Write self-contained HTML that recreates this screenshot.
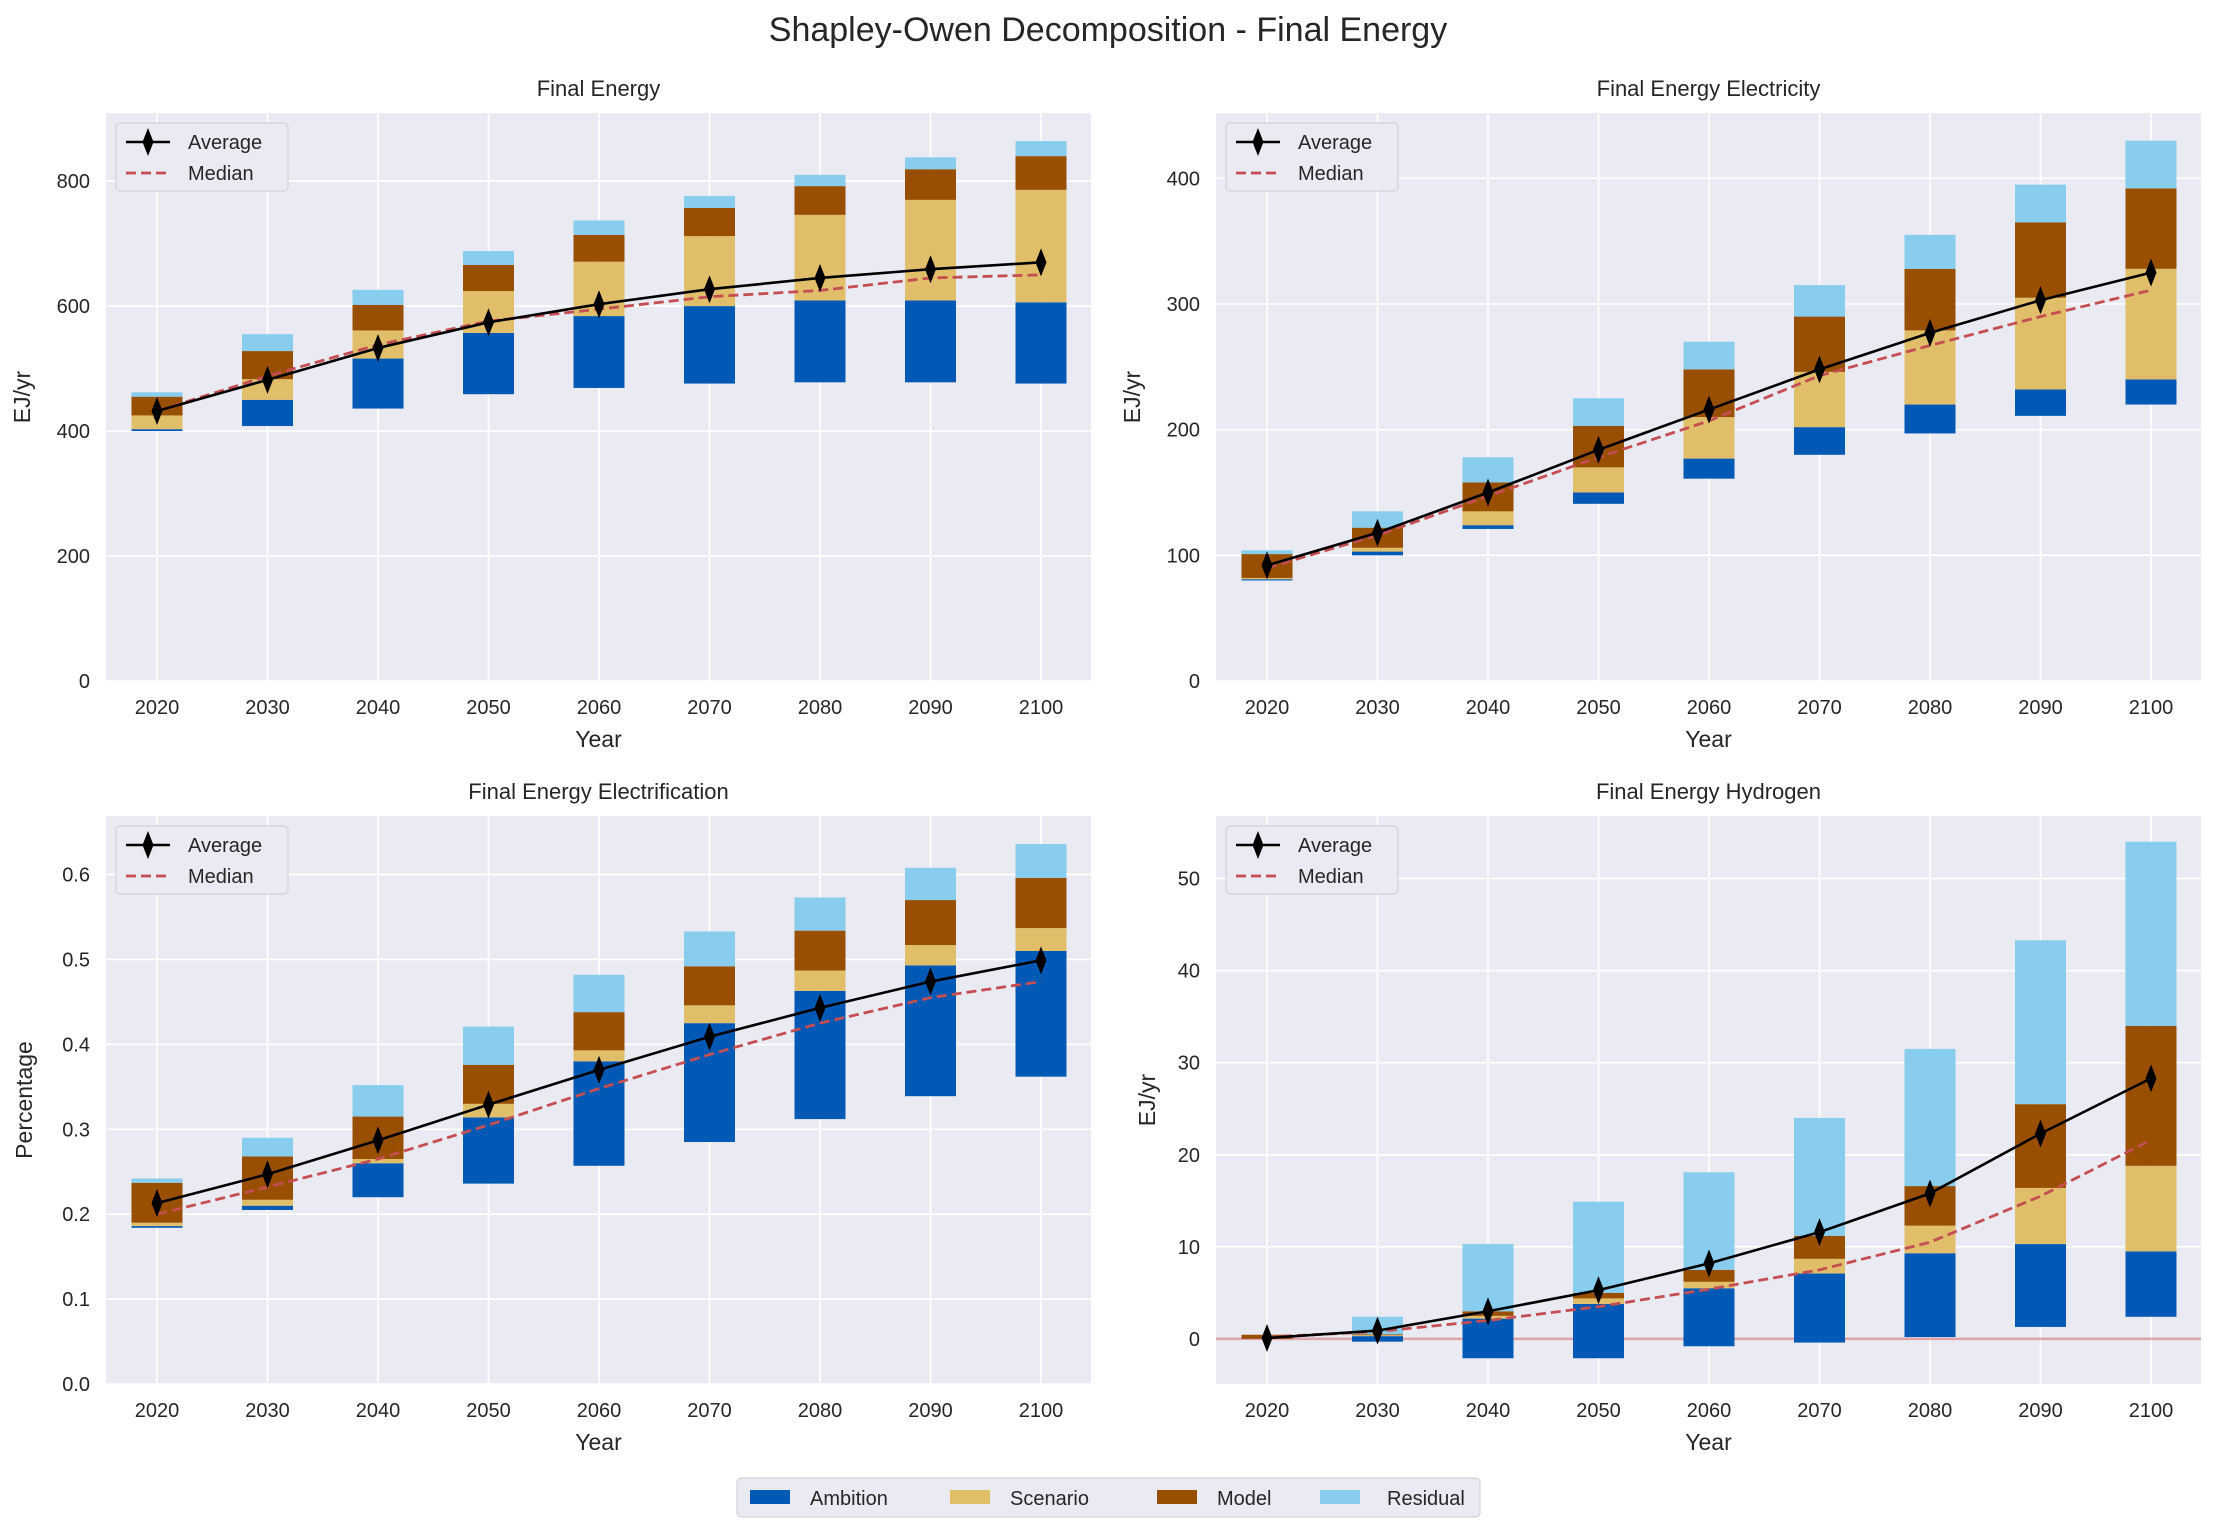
<!DOCTYPE html>
<html><head><meta charset="utf-8">
<style>
body{margin:0;background:#fff;}
svg text{font-family:"Liberation Sans",Arial,sans-serif;fill:#262626;}
</style></head>
<body>
<svg id="fig" width="2217" height="1534" viewBox="0 0 2217 1534" xmlns="http://www.w3.org/2000/svg">
<text x="1108" y="41" font-size="34" text-anchor="middle">Shapley-Owen Decomposition - Final Energy</text>
<g id="panels"></g>
<g>
<rect x="737" y="1478" width="743" height="39" rx="4" fill="#EAEAF2" stroke="#cccccc"/>
<rect x="750" y="1490" width="40" height="14" fill="#005AB5"/>
<text x="810" y="1505" font-size="20">Ambition</text>
<rect x="950" y="1490" width="40" height="14" fill="#E1BE6A"/>
<text x="1010" y="1505" font-size="20">Scenario</text>
<rect x="1157" y="1490" width="40" height="14" fill="#994F00"/>
<text x="1217" y="1505" font-size="20">Model</text>
<rect x="1320" y="1490" width="40" height="14" fill="#88CCEE"/>
<text x="1387" y="1505" font-size="20">Residual</text>
</g>
</svg>
<script>
const years = ["2020","2030","2040","2050","2060","2070","2080","2090","2100"];
// Final Energy
const feBase = [400,408,436,459,469,476,478,478,476];
const feAmb = [3,42,80,98,115,124,131,131,130];
const feScen = [22,33,45,67,87,112,137,161,180];
const feModel = [30,45,41,42,43,45,46,49,54];
const feResid = [7,27,24,22,23,19,18,19,24];
const feAvg = [432,482,533,574,603,627,645,659,670];
const feMed = [432,488,538,576,595,615,625,645,650];
const feTicks = [0,200,400,600,800];
// Electricity
const elBase = [80,100,121,141,161,180,197,211,220];
const elAmb = [1,3,3,9,16,22,23,21,20];
const elScen = [1,3,11,20,33,44,59,73,88];
const elModel = [19,16,23,33,38,44,49,60,64];
const elResid = [3,13,20,22,22,25,27,30,38];
const elAvg = [92,118,150,184,216,248,277,303,325];
const elMed = [90,116,147,178,207,243,267,290,311];
const elTicks = [0,100,200,300,400];
// Electrification
const ecBase = [0.184,0.205,0.22,0.236,0.257,0.285,0.312,0.339,0.362];
const ecAmb = [0.002,0.005,0.04,0.078,0.123,0.14,0.151,0.154,0.148];
const ecScen = [0.004,0.007,0.005,0.016,0.013,0.021,0.024,0.024,0.027];
const ecModel = [0.047,0.051,0.05,0.046,0.045,0.046,0.047,0.053,0.059];
const ecResid = [0.005,0.022,0.037,0.045,0.044,0.041,0.039,0.038,0.04];
const ecAvg = [0.213,0.247,0.287,0.329,0.37,0.409,0.443,0.474,0.499];
const ecMed = [0.20,0.232,0.265,0.305,0.348,0.388,0.425,0.455,0.474];
const ecTicks = [0,0.1,0.2,0.3,0.4,0.5,0.6];
// Hydrogen
const hyBase = [0,-0.3,-2.1,-2.1,-0.8,-0.4,0.2,1.3,2.4];
const hyAmb = [0,0.6,4.3,5.9,6.3,7.5,9.1,9.0,7.1];
const hyScen = [0,0.1,0.3,0.6,0.7,1.6,3.0,6.1,9.3];
const hyModel = [0.45,0.1,0.5,0.6,1.3,2.5,4.3,9.1,15.2];
const hyResid = [0,1.9,7.3,9.9,10.6,12.8,14.9,17.8,20.0];
const hyAvg = [0.1,0.9,3.0,5.3,8.2,11.6,15.8,22.3,28.3];
const hyMed = [0.2,0.8,2.0,3.5,5.4,7.5,10.5,15.5,21.6];
const hyTicks = [0,10,20,30,40,50];

const NS="http://www.w3.org/2000/svg";
const root=document.getElementById('panels');
function mk(tag,attrs,parent){const e=document.createElementNS(NS,tag);for(const k in attrs)e.setAttribute(k,attrs[k]);(parent||root).appendChild(e);return e;}
const colors=["#005AB5","#E1BE6A","#994F00","#88CCEE"];
const segNames=["ambition","scenario","model","residual"];

function panel(o){
  const g=mk('g',{});
  
  
  const L=o.x0,R=o.x0+985,T=o.y0,B=o.y0+568;
  const bg=mk('rect',{x:L,y:T,width:R-L,height:B-T,fill:'#EAEAF2'},g);
  
  
  const ys=v=>B-(v-o.ymin)/(o.ymax-o.ymin)*(B-T);
  const xs=i=>L+51+i*110.5;
  o.ticks.forEach(t=>{
    const y=ys(t);
    const gl=mk('line',{x1:L,x2:R,y1:y,y2:y,stroke:'#fff','stroke-width':1.6},g);
    
    
    const tl=mk('text',{x:L-16,y:y+7,'font-size':20,'text-anchor':'end'},g);
    
    
    tl.textContent=o.fmt(t);
  });
  years.forEach((yr,i)=>{
    const x=xs(i);
    const gl=mk('line',{x1:x,x2:x,y1:T,y2:B,stroke:'#fff','stroke-width':1.6},g);
    
    
    const tl=mk('text',{x:x,y:B+33,'font-size':20,'text-anchor':'middle'},g);
    
    
    tl.textContent=yr;
  });
  if(o.zeroLine){
    const zl=mk('line',{x1:L,x2:R,y1:ys(0),y2:ys(0),stroke:'#C44E52','stroke-opacity':0.5,'stroke-width':2.5},g);
    
    
  }
  years.forEach((yr,i)=>{
    let b=o.base[i];
    o.segs.forEach((arr,k)=>{
      const v=arr[i];
      if(v>0){
        const y1=ys(b+v),y2=ys(b);
        const r=mk('rect',{x:xs(i)-25.5,y:y1,width:51,height:Math.max(0.5,y2-y1),fill:colors[k]},g);
        
        
      }
      b+=v;
    });
  });
  const med=mk('polyline',{points:o.med.map((v,i)=>xs(i)+','+ys(v)).join(' '),fill:'none',stroke:'#C44E52','stroke-width':2.8,'stroke-dasharray':'10,5'},g);
  
  
  const avg=mk('polyline',{points:o.avg.map((v,i)=>xs(i)+','+ys(v)).join(' '),fill:'none',stroke:'#000','stroke-width':2.6},g);
  
  
  o.avg.forEach((v,i)=>{
    const x=xs(i),y=ys(v);
    const m=mk('polygon',{points:`${x},${y-14} ${x+5.5},${y} ${x},${y+14} ${x-5.5},${y}`,fill:'#000'},g);
    
    
  });
  const tt=mk('text',{x:(L+R)/2,y:T-17,'font-size':22,'text-anchor':'middle'},g);
  
  
  tt.textContent=o.title;
  const xl=mk('text',{x:(L+R)/2,y:B+66,'font-size':23,'text-anchor':'middle'},g);
  
  
  xl.textContent='Year';
  const yl=mk('text',{x:0,y:0,'font-size':23,'text-anchor':'middle',transform:`translate(${o.ylx},${(T+B)/2}) rotate(-90)`},g);
  
  
  yl.textContent=o.ylabel;
  const lg=mk('g',{},g);
  
  
  mk('rect',{x:L+10,y:T+10,width:172,height:68,rx:4,fill:'#EAEAF2',stroke:'#cccccc'},lg);
  mk('line',{x1:L+20,x2:L+64,y1:T+29,y2:T+29,stroke:'#000','stroke-width':2.6},lg);
  mk('polygon',{points:`${L+42},${T+15} ${L+47.5},${T+29} ${L+42},${T+43} ${L+36.5},${T+29}`,fill:'#000'},lg);
  const t1=mk('text',{x:L+82,y:T+36,'font-size':20},lg);t1.textContent='Average';
  mk('line',{x1:L+20,x2:L+64,y1:T+60,y2:T+60,stroke:'#C44E52','stroke-width':2.8,'stroke-dasharray':'10,5'},lg);
  const t2=mk('text',{x:L+82,y:T+67,'font-size':20},lg);t2.textContent='Median';
}
panel({name:'panel-final-energy',title:'Final Energy',x0:106,y0:113,ymin:0,ymax:909,ticks:feTicks,fmt:t=>String(t),base:feBase,segs:[feAmb,feScen,feModel,feResid],avg:feAvg,med:feMed,ylabel:'EJ/yr',ylx:30});
panel({name:'panel-electricity',title:'Final Energy Electricity',x0:1216,y0:113,ymin:0,ymax:452,ticks:elTicks,fmt:t=>String(t),base:elBase,segs:[elAmb,elScen,elModel,elResid],avg:elAvg,med:elMed,ylabel:'EJ/yr',ylx:1140});
panel({name:'panel-electrification',title:'Final Energy Electrification',x0:106,y0:816,ymin:0,ymax:0.669,ticks:ecTicks,fmt:t=>t.toFixed(1),base:ecBase,segs:[ecAmb,ecScen,ecModel,ecResid],avg:ecAvg,med:ecMed,ylabel:'Percentage',ylx:32});
panel({name:'panel-hydrogen',title:'Final Energy Hydrogen',x0:1216,y0:816,ymin:-4.9,ymax:56.8,ticks:hyTicks,fmt:t=>String(t),base:hyBase,segs:[hyAmb,hyScen,hyModel,hyResid],avg:hyAvg,med:hyMed,ylabel:'EJ/yr',ylx:1155,zeroLine:true});
</script>
</body></html>
